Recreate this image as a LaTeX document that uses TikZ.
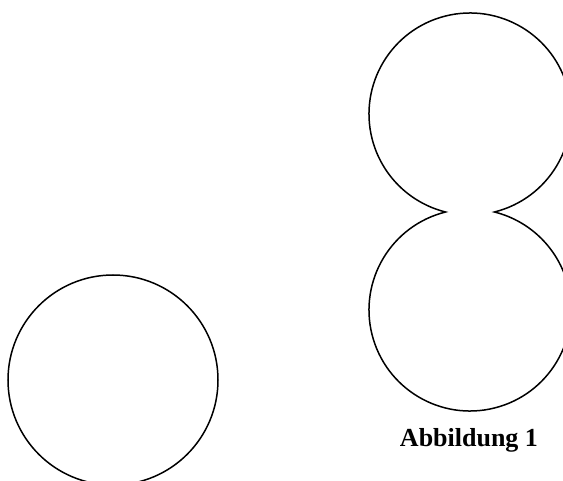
\documentclass[tikz,border=0pt]{standalone}
\usepackage{fontspec}
\setmainfont{Liberation Serif}
\begin{document}
\begin{tikzpicture}[x=1pt,y=1pt,
  outline/.style={draw=black,line width=1.5pt},
  caption/.style={font=\fontsize{26}{30}\selectfont\bfseries,anchor=base,inner sep=0pt}]
\useasboundingbox (0,0) rectangle (563,480);
\clip (0,0) rectangle (563,480);
% single circle bottom left
\draw[outline] (113,100) circle[radius=105];
% figure eight (union of two circles)
\draw[outline] ([shift={(-76:101)}]470,366) arc[start angle=-76,end angle=256,radius=101]
  arc[start angle=104,end angle=436,radius=101] -- cycle;
\node[caption] (cap) at (469,34) {Abbildung 1};
\end{tikzpicture}
\end{document}
